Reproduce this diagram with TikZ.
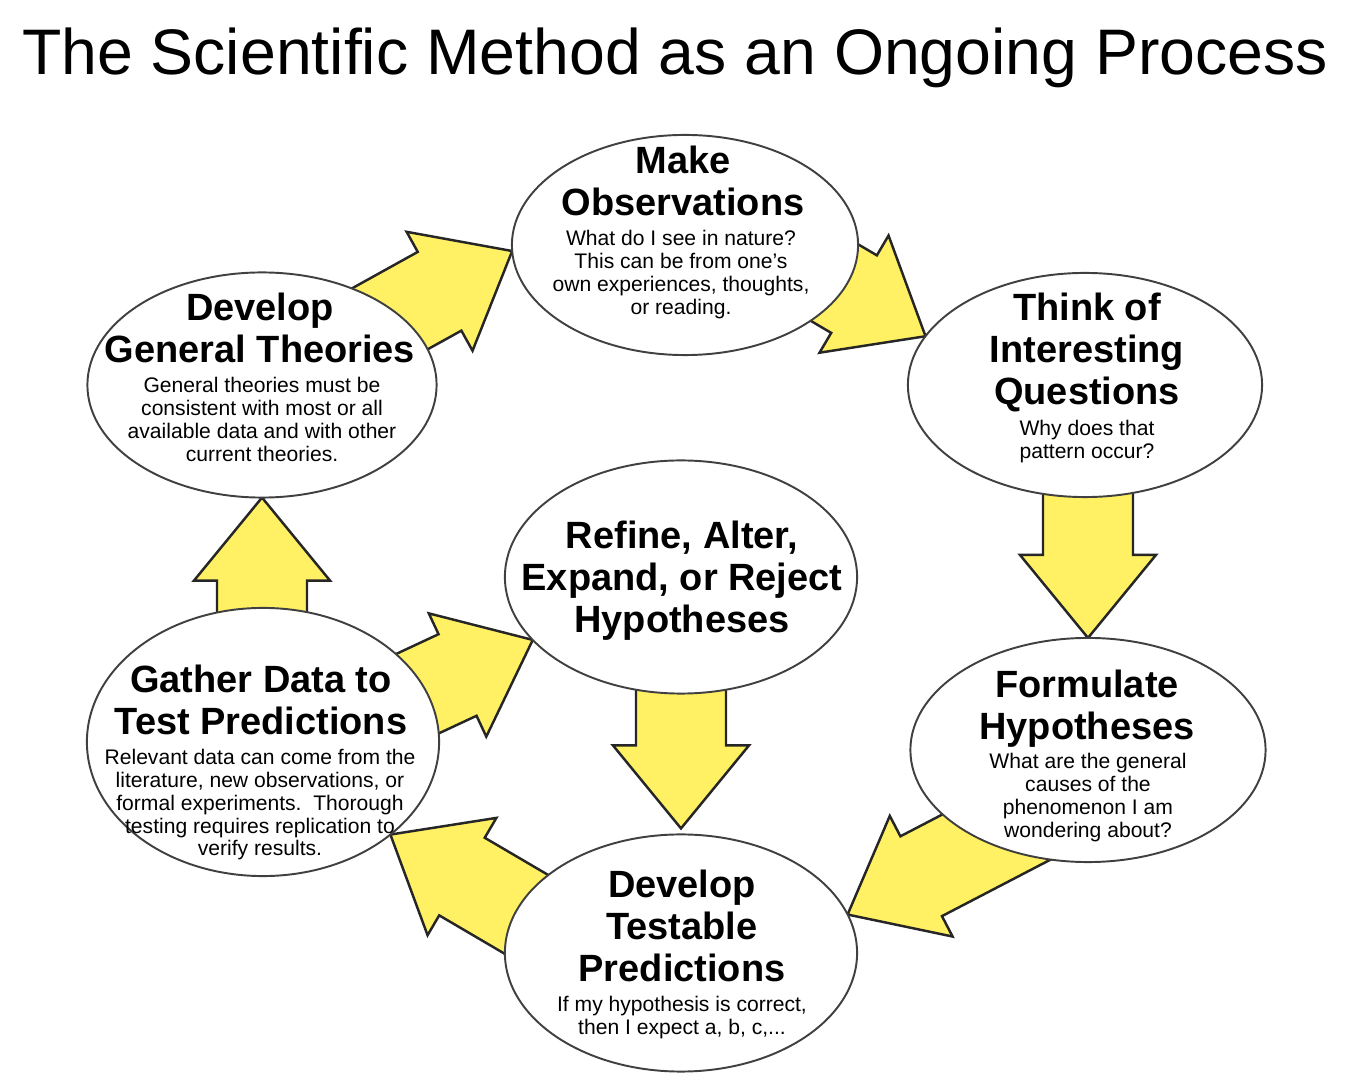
\documentclass[tikz,border=0pt]{standalone}
\usepackage{fontspec}
\setmainfont{Liberation Sans}
\usetikzlibrary{shapes.geometric,positioning,backgrounds,calc}

\definecolor{arrowyellow}{RGB}{255,240,100}

\tikzset{
  bubble/.style={ellipse, draw=black!75, line width=0.55pt, fill=white, outer sep=0pt, inner sep=0pt},
  heading/.style={align=center, inner sep=0pt, font=\bfseries\fontsize{10.8}{12}\selectfont},
  note/.style={align=center, inner sep=0pt, font=\fontsize{6}{6.45}\selectfont},
  bigarrow/.style={draw=black!85, line width=0.7pt, fill=arrowyellow, line join=miter},
}

% tip, angle, length
\newcommand{\blockarrow}[3]{%
  \begin{scope}[shift={#1}, rotate=#2]
    \draw[bigarrow] (0,0) -- (-83,68) -- (-83,45) -- (-#3,45)
      -- (-#3,-45) -- (-83,-45) -- (-83,-68) -- cycle;
  \end{scope}}

\begin{document}
\begin{tikzpicture}[x=0.01cm, y=-0.01cm]
\useasboundingbox (0,0) rectangle (1347,1091);

\node[anchor=base, font=\fontsize{18.3}{22}\selectfont] (title) at (675,75)
  {The Scientific Method as an Ongoing Process};

% the bubbles
\node[bubble, minimum width=3.46cm, minimum height=2.20cm] (obs) at (685,245) {};
\node[bubble, minimum width=3.54cm, minimum height=2.24cm] (think) at (1085,385) {};
\node[bubble, minimum width=3.55cm, minimum height=2.24cm] (form) at (1088,750) {};
\node[bubble, minimum width=3.52cm, minimum height=2.37cm] (predict) at (681,953) {};
\node[bubble, minimum width=3.52cm, minimum height=2.68cm] (gather) at (263,742) {};
\node[bubble, minimum width=3.49cm, minimum height=2.25cm] (theory) at (262,385) {};
\node[bubble, minimum width=3.52cm, minimum height=2.33cm] (refine) at (681,577) {};

% headings
\node[heading, anchor=north] (obshead) at (683,145) {Make\\Observations};
\node[heading, anchor=north] (thinkhead) at (1087,292) {Think of\\Interesting\\Questions};
\node[heading, anchor=north] (formhead) at (1087,669) {Formulate\\Hypotheses};
\node[heading, anchor=north] (predicthead) at (682,869) {Develop\\Testable\\Predictions};
\node[heading, anchor=north] (gatherhead) at (261,664) {Gather Data to\\Test Predictions};
\node[heading, anchor=north] (theoryhead) at (260,292) {Develop\\General Theories};
\node[heading, anchor=north] (refinehead) at (682,520) {Refine, Alter,\\Expand, or Reject\\Hypotheses};

% notes
\node[note, anchor=north] (obsnote) at (681,230)
  {What do I see in nature?\\This can be from one's\\own experiences, thoughts,\\or reading.};
\node[note, anchor=north] (thinknote) at (1087,420)
  {Why does that\\pattern occur?};
\node[note, anchor=north] (formnote) at (1088,753)
  {What are the general\\causes of the\\phenomenon I am\\wondering about?};
\node[note, anchor=north] (predictnote) at (682,996)
  {If my hypothesis is correct,\\then I expect a, b, c,...};
\node[note, anchor=north] (gathernote) at (260,749)
  {Relevant data can come from the\\literature, new observations, or\\formal experiments.\ \ Thorough\\testing requires replication to\\verify results.};
\node[note, anchor=north] (theorynote) at (262,377)
  {General theories must be\\consistent with most or all\\available data and with other\\current theories.};

% arrows behind the bubbles
\begin{pgfonlayer}{background}
  \blockarrow{(obs.182)}{29}{193}
  \blockarrow{(think.163)}{-30.5}{173}
  \blockarrow{(form.north)}{-90}{168}
  \blockarrow{(predict.13)}{207.5}{210}
  \blockarrow{(gather.-36)}{149.6}{205}
  \blockarrow{(refine.203)}{25}{200}
  \blockarrow{(theory.south)}{90}{143}
  \blockarrow{($(predict.north)+(0,-6)$)}{-90}{170}
\end{pgfonlayer}
\end{tikzpicture}
\end{document}
